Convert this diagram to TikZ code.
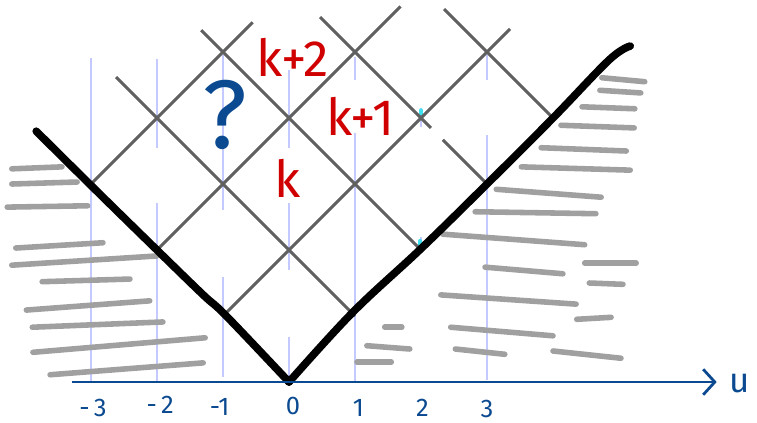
\documentclass[tikz,border=0pt]{standalone}
\usepackage{fontspec}
\setmainfont{Fira Sans}
\usetikzlibrary{arrows.meta}
\definecolor{gris}{HTML}{606060}
\definecolor{grisclair}{HTML}{A0A0A0}
\definecolor{bleuclair}{HTML}{C4CAFF}
\definecolor{bleu}{HTML}{0B4A90}
\definecolor{rouge}{HTML}{D00000}
\definecolor{cyan}{HTML}{40E0F0}
\begin{document}
\begin{tikzpicture}[x=1cm, y=1cm,
	grille/.style={gris, line width=1.25pt},
	hachure/.style={grisclair, line width=2.4pt, line cap=round},
	verticale/.style={bleuclair, line width=0.6pt},
	cone/.style={line width=3.3pt, line cap=round, line join=round},
	etiquette/.style={bleu, font=\fontsize{11}{11}\selectfont},
	indice/.style={rouge, font=\fontsize{22}{22}\selectfont}]
	\useasboundingbox (-4.379,-0.606) rectangle (7.091,5.788);
	%verticales
	\draw[verticale] (-3,0) -- (-3,4.91);
	\draw[verticale] (-2,0) -- (-2,2.71);
	\draw[verticale] (-2,3.55) -- (-2,4.89);
	\draw[verticale] (-1,0.08) -- (-1,1.59);
	\draw[verticale] (-1,2.61) -- (-1,4.95);
	\draw[verticale] (0,0) -- (0,0.68);
	\draw[verticale] (0,1.70) -- (0,2.71);
	\draw[verticale] (0,3.55) -- (0,4.73);
	\draw[verticale] (1,0) -- (1,3.77);
	\draw[verticale] (1,4.58) -- (1,4.92);
	\draw[verticale] (2,2.0) -- (2,2.2);
	\draw[verticale] (2,3.86) -- (2,4.15);
	\draw[verticale] (3,0.03) -- (3,3.74);
	\draw[verticale] (3,4.58) -- (3,4.95);
	\draw[cyan, line width=1.6pt, line cap=round] (2,4.0) -- (2,4.12);
	\draw[cyan, line width=1.6pt, line cap=round] (1.99,2.04) -- (1.99,2.14);
	%grille
	\draw[grille] (-1,1) -- (3.35,5.35);
	\draw[grille] (-2,2) -- (1.69,5.69);
	\draw[grille] (-3,3) -- (-0.55,5.45);
	\draw[grille] (1,1) -- (-2.62,4.62);
	\draw[grille] (2,2) -- (-1.33,5.33);
	\draw[grille] (0.47,5.53) -- (2.15,3.85);
	\draw[grille] (2.33,3.67) -- (3,3);
	\draw[grille] (4,4) -- (2.35,5.65);
	%hachures gauche
	\draw[hachure] (-4.20,3.23) -- (-3.44,3.26);
	\draw[hachure] (-4.20,3.00) -- (-3.21,3.03);
	\draw[hachure] (-4.27,2.65) -- (-3.05,2.67);
	\draw[hachure] (-4.14,2.03) -- (-2.82,2.11);
	\draw[hachure] (-4.20,1.77) -- (-2.00,1.91);
	\draw[hachure] (-3.74,1.52) -- (-2.41,1.56);
	\draw[hachure] (-3.98,1.09) -- (-2.11,1.23);
	\draw[hachure] (-3.89,0.83) -- (-1.91,0.91);
	\draw[hachure] (-3.88,0.45) -- (-1.27,0.67);
	\draw[hachure] (-3.62,0.11) -- (-1.30,0.29);
	%hachures droite
	\draw[hachure] (4.74,4.61) -- (5.39,4.55);
	\draw[hachure] (4.71,4.42) -- (5.33,4.38);
	\draw[hachure] (4.44,4.17) -- (5.24,4.14);
	\draw[hachure] (4.12,3.89) -- (5.23,3.85);
	\draw[hachure] (3.82,3.55) -- (5.11,3.50);
	\draw[hachure] (3.52,3.26) -- (5.17,3.21);
	\draw[hachure] (3.14,2.92) -- (4.73,2.80);
	\draw[hachure] (2.82,2.58) -- (4.65,2.55);
	\draw[hachure] (2.33,2.24) -- (4.48,2.08);
	\draw[hachure] (4.48,1.80) -- (5.26,1.80);
	\draw[hachure] (4.55,1.50) -- (5.06,1.48);
	\draw[hachure] (2.97,1.74) -- (4.15,1.64);
	\draw[hachure] (2.30,1.32) -- (4.35,1.18);
	\draw[hachure] (4.36,0.95) -- (4.88,0.98);
	\draw[hachure] (1.45,0.83) -- (1.71,0.83);
	\draw[hachure] (2.45,0.83) -- (4.00,0.70);
	\draw[hachure] (1.18,0.55) -- (1.83,0.50);
	\draw[hachure] (1.03,0.30) -- (1.55,0.30);
	\draw[hachure] (2.52,0.50) -- (3.27,0.42);
	\draw[hachure] (4.00,0.47) -- (5.03,0.36);
	%cone
	\draw[cone] plot[smooth, tension=0.6] coordinates {(-3.83,3.80) (-2.90,2.88) (-1.97,1.97)
		(-1.30,1.32) (-0.95,1.00) (0,0)};
	\draw[cone] plot[smooth, tension=0.6] coordinates {(0,0) (0.97,1.06)
		(2,2.02) (3,3) (4,4) (4.85,4.88) (5.17,5.09)};
	%axe
	\coordinate (debut) at (-3.29,0);
	\coordinate (fin) at (6.48,0);
	\draw[bleu, line width=0.9pt, -{Straight Barb[length=5pt, width=11pt, line width=1.2pt]}] (debut) -- (fin);
	\node[bleu, font=\fontsize{15}{15}\selectfont] (u) at (6.83,-0.02) {u};
	%décorations
	\node[etiquette] (m3) at (-2.97,-0.39) {-\,3};
	\node[etiquette] (m2) at (-1.95,-0.35) {-\,2};
	\node[etiquette] (m1) at (-1.05,-0.38) {-1};
	\node[etiquette] (z0) at (0.06,-0.37) {0};
	\node[etiquette] (p1) at (1.05,-0.40) {1};
	\node[etiquette] (p2) at (2.02,-0.39) {2};
	\node[etiquette] (p3) at (3.00,-0.41) {3};
	\node[indice] (kd) at (0.06,4.92) {k+2};
	\node[indice] (ku) at (1.08,4.03) {k+1};
	\node[indice] (k) at (-0.02,3.09) {k};
	\node[bleu, font=\fontsize{42}{42}\selectfont] (q) at (-0.97,4.05) {?};
\end{tikzpicture}
\end{document}
